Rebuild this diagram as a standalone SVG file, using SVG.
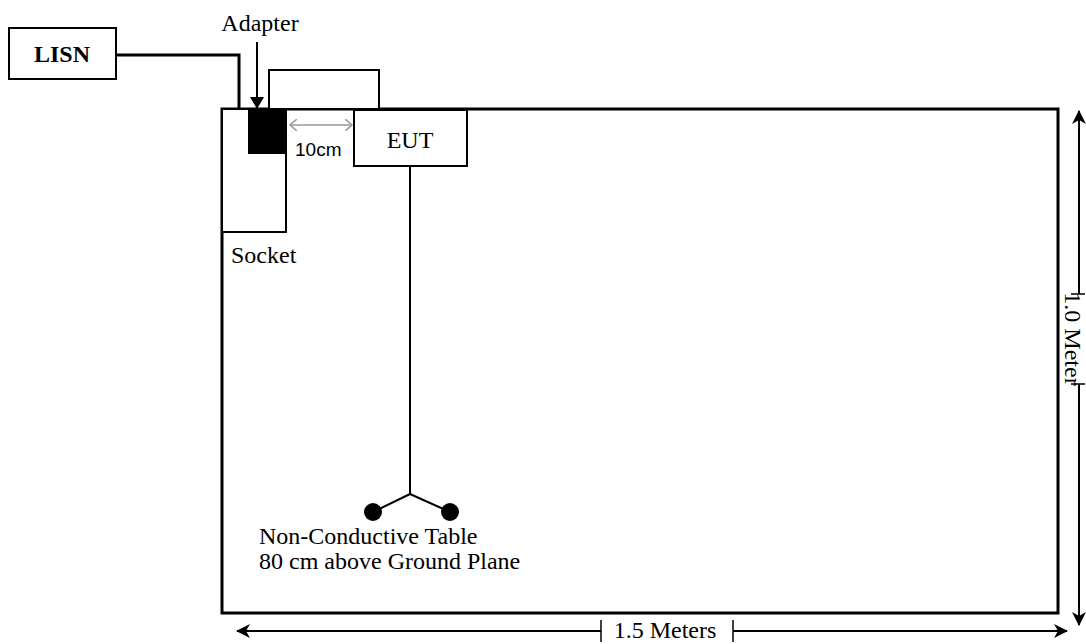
<svg xmlns="http://www.w3.org/2000/svg" width="1086" height="644" viewBox="0 0 1086 644">
<style>
.t{font-family:"Liberation Serif","Times New Roman",serif;font-size:24px;fill:#000}
.b{font-weight:bold}
.s{font-family:"Liberation Sans",Arial,sans-serif;font-size:19px;fill:#000}
.box{fill:#fff;stroke:#000;stroke-width:2}
.ln{fill:none;stroke:#000;stroke-width:2}
</style>
<defs>
<marker id="ah" viewBox="0 0 14 14" refX="13" refY="7" markerWidth="14" markerHeight="14" markerUnits="userSpaceOnUse" orient="auto-start-reverse">
<path d="M0,0 L14,7 L0,14 L4,7 z" fill="#000"/>
</marker>
<marker id="tri" viewBox="0 0 12 14" refX="12" refY="7" markerWidth="12" markerHeight="14" markerUnits="userSpaceOnUse" orient="auto">
<path d="M0,0 L12,7 L0,14 z" fill="#000"/>
</marker>
<marker id="ga" viewBox="0 0 8 12" refX="7" refY="6" markerWidth="8" markerHeight="12" markerUnits="userSpaceOnUse" orient="auto-start-reverse">
<path d="M0,0 L7,6 L0,12" fill="none" stroke="#999" stroke-width="1.5"/>
</marker>
</defs>
<g id="table"><rect x="222" y="109" width="836" height="504" fill="#fff" stroke="#000" stroke-width="3"/></g>
<g id="lisn"><rect class="box" x="9" y="28" width="107" height="51"/><text class="t b" x="62" y="62" text-anchor="middle" font-size="25">LISN</text></g>
<g id="loop"><rect class="box" x="269" y="70" width="110" height="39"/></g>
<g id="socket"><rect class="box" x="222" y="109" width="64" height="123"/><text class="t" x="231" y="263" font-size="25">Socket</text></g>
<g id="adapter"><rect x="248" y="109" width="39" height="45" fill="#000"/><text class="t" x="260" y="31" text-anchor="middle">Adapter</text></g>
<g id="eut"><rect class="box" x="354" y="110" width="113" height="56"/><text class="t" x="410" y="148" text-anchor="middle">EUT</text></g>
<g id="legs"><circle cx="373" cy="512" r="9"/><circle cx="450" cy="512" r="9"/>
<text class="t" x="259" y="544">Non-Conductive Table</text><text class="t" x="259" y="569">80 cm above Ground Plane</text></g>
<g id="connectors">
<path d="M116,55 H239 V109" fill="none" stroke="#000" stroke-width="3"/>
<line x1="257" y1="42" x2="257" y2="109" stroke="#000" stroke-width="2" marker-end="url(#tri)"/>
<line x1="290" y1="125" x2="352" y2="125" stroke="#999" stroke-width="1.5" marker-start="url(#ga)" marker-end="url(#ga)"/>
<text class="s" x="295" y="156">10cm</text>
<path class="ln" d="M410,166 V494 L373,512 M410,494 L450,512"/>
<line x1="1079" y1="294" x2="1079" y2="111" stroke="#000" stroke-width="2" marker-end="url(#ah)"/>
<line x1="1079" y1="384" x2="1079" y2="625" stroke="#000" stroke-width="2" marker-end="url(#ah)"/>
<line x1="1071" y1="294" x2="1085" y2="294" stroke="#000" stroke-width="1.5"/>
<line x1="1071" y1="384" x2="1085" y2="384" stroke="#000" stroke-width="1.5"/>
<text class="t" transform="translate(1065,339) rotate(90)" text-anchor="middle" font-size="17">1.0 Meter</text>
<line x1="601" y1="631" x2="237" y2="631" stroke="#000" stroke-width="2" marker-end="url(#ah)"/>
<line x1="733" y1="631" x2="1067" y2="631" stroke="#000" stroke-width="2" marker-end="url(#ah)"/>
<line x1="601" y1="620" x2="601" y2="642" stroke="#000" stroke-width="1.5"/>
<line x1="733" y1="620" x2="733" y2="642" stroke="#000" stroke-width="1.5"/>
<text class="t" x="665" y="638" text-anchor="middle" font-size="20">1.5 Meters</text>
</g>
</svg>
